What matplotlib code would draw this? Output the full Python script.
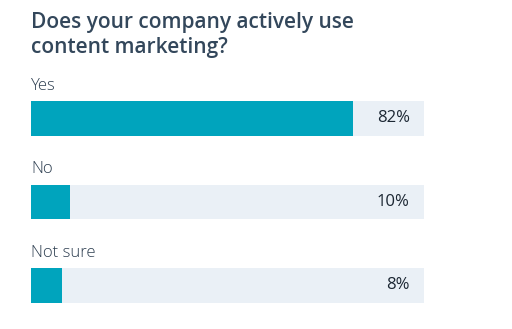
import matplotlib
matplotlib.use("Agg")
import matplotlib.pyplot as plt

title = "Does your company actively use\ncontent marketing?"
answers = ["Yes", "No", "Not sure"]
shares = [82, 10, 8]

teal = "#00a4bd"
track = "#eaf0f6"
ink = "#33475b"

plt.rcParams['font.family'] = ['Open Sans', 'DejaVu Sans']

fig = plt.figure(figsize=(5.12, 3.29), dpi=100)
fig.patch.set_facecolor("white")
ax = fig.add_axes([31/512, 0, 393/512, 1])
ax.set_xlim(0, 100)
ax.set_ylim(2.521, -1.419)
ax.axis("off")

ypos = range(len(answers))
# grey track behind each bar, then the share on top
ax.barh(ypos, [100]*len(answers), height=0.41, color=track, edgecolor="none")
ax.barh(ypos, shares, height=0.41, color=teal, edgecolor="none")

for y, name, v in zip(ypos, answers, shares):
    ax.text(0, y - 0.39, name, ha="left", va="center", fontsize=12,
            color="#2d3e50", fontweight="light")
    ax.text(96.4, y, f"{v}%", ha="right", va="center", fontsize=12,
            color="#1c2733")

fig.text(31/512, 1 - 35/329, title, ha="left", va="center", fontsize=15,
         fontweight="semibold", color=ink, linespacing=1.2)

fig.savefig("out.png", dpi=100)
